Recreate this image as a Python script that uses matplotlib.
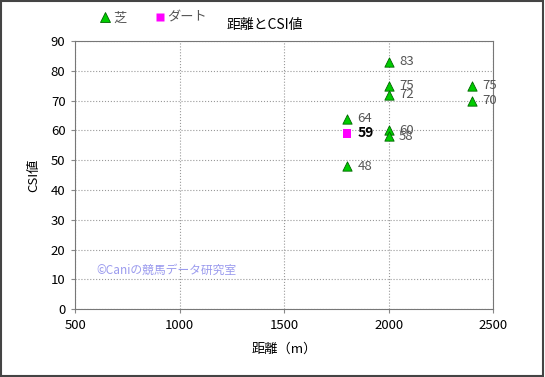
import matplotlib.pyplot as plt
from matplotlib.lines import Line2D

plt.rcParams['font.family'] = ['Noto Sans CJK JP', 'DejaVu Sans']

# 芝
turf_dist = [1800, 1800, 2000, 2000, 2000, 2000, 2000, 2400, 2400]
turf_csi = [64, 48, 83, 75, 72, 60, 58, 75, 70]
# ダート
dirt_dist = [1800]
dirt_csi = [59]

x_ticks = [500, 1000, 1500, 2000, 2500]
y_ticks = list(range(0, 91, 10))

fig = plt.figure(figsize=(5.45, 3.77), dpi=100)
ax = fig.add_axes([0.138, 0.180, 0.767, 0.711])

ax.scatter(turf_dist, turf_csi, marker='^', s=45, c='#00cc00', edgecolors='#006600',
           linewidths=0.6, zorder=3)
ax.scatter(dirt_dist, dirt_csi, marker='s', s=36, c='#ff00ff', edgecolors='none', zorder=3)

for x, y in zip(turf_dist, turf_csi):
    ax.text(x + 50, y, str(y), fontsize=9.5, color='#555555', va='center', ha='left')
for x, y in zip(dirt_dist, dirt_csi):
    ax.text(x + 50, y, str(y), fontsize=10, color='black', va='center', ha='left',
            fontweight='bold')

ax.set_xlim(500, 2500)
ax.set_ylim(0, 90)
ax.set_xticks(x_ticks)
ax.set_yticks(y_ticks)
ax.tick_params(labelsize=9.5, length=3, color='#888888', pad=4)
ax.grid(True, linestyle=':', color='#999999', linewidth=0.8)
for sp in ax.spines.values():
    sp.set_color('#777777')

ax.set_xlabel('距離（m）', fontsize=9.5, labelpad=8)
ax.set_ylabel('CSI値', fontsize=9.5, labelpad=8)
fig.text(0.485, 0.935, '距離とCSI値', fontsize=10, ha='center', va='center')

ax.text(600, 13, '©Caniの競馬データ研究室', fontsize=8.5, color='#9a9aee', va='center', ha='left')

handles = [
    Line2D([], [], marker='^', linestyle='none', markersize=7, markerfacecolor='#00cc00',
           markeredgecolor='#006600', markeredgewidth=0.6, label='芝'),
    Line2D([], [], marker='s', linestyle='none', markersize=6, markerfacecolor='#ff00ff',
           markeredgecolor='none', label='ダート'),
]
fig.legend(handles=handles, loc='center left', bbox_to_anchor=(0.157, 0.952), ncol=2,
           frameon=False, fontsize=9.5, handletextpad=0.0, columnspacing=1.9,
           handlelength=1.2, labelcolor='#555555')

fig.patches.append(plt.Rectangle((0.002, 0.003), 0.995, 0.994, transform=fig.transFigure,
                                 fill=False, edgecolor='#444444', linewidth=1.5))

fig.savefig('out.png', dpi=100)
